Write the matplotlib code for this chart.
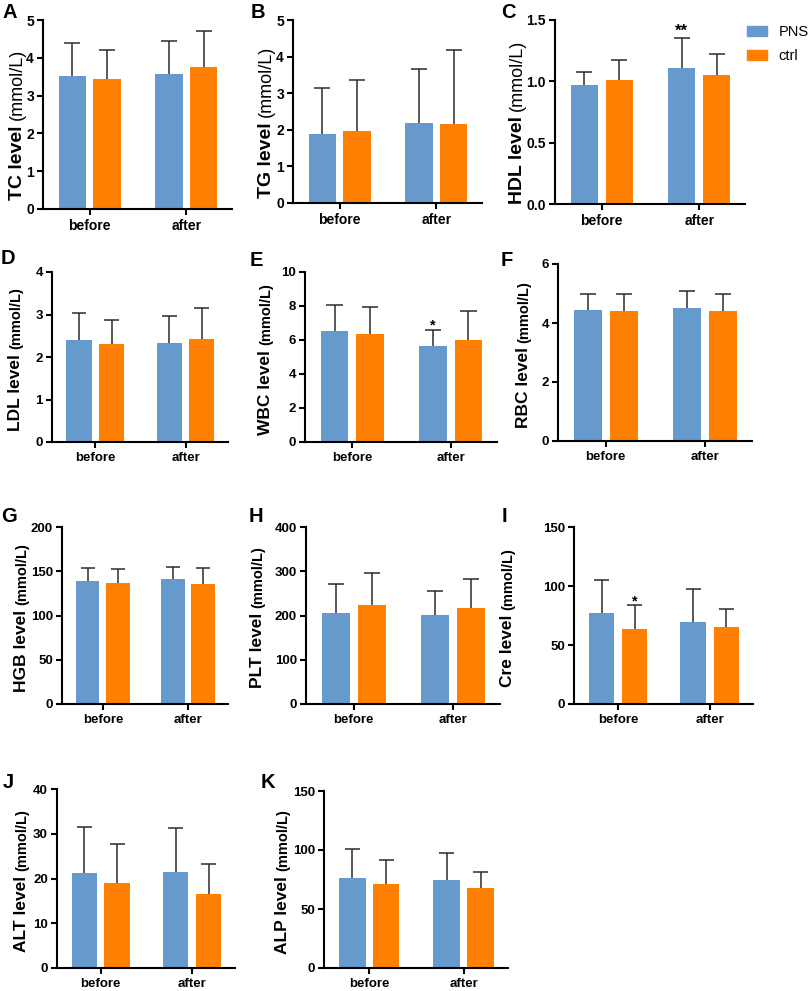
import numpy as np
import matplotlib
matplotlib.use('Agg')
import matplotlib.pyplot as plt
from matplotlib.patches import Patch

plt.rcParams['font.family'] = ['Liberation Sans', 'DejaVu Sans']

# ---------------- data ----------------
GROUPS = ['before', 'after']
SERIES = ['PNS', 'ctrl']
LETTERS = list('ABCDEFGHIJK')
MEASURES = ['TC', 'TG', 'HDL', 'LDL', 'WBC', 'RBC', 'HGB', 'PLT', 'Cre', 'ALT', 'ALP']
UNIT = '(mmol/L)'
Y_MAX = [5, 5, 1.5, 4, 10, 6, 200, 400, 150, 40, 150]
Y_STEP = [1, 1, 0.5, 1, 2, 2, 50, 100, 50, 10, 50]

PNS_BEFORE = [3.52, 1.89, 0.97, 2.39, 6.55, 4.43, 138.6, 205.6, 77.0, 21.2, 76.0]
PNS_AFTER = [3.57, 2.18, 1.11, 2.33, 5.65, 4.51, 141.6, 200.4, 69.4, 21.5, 74.6]
CTRL_BEFORE = [3.45, 1.96, 1.01, 2.30, 6.35, 4.40, 136.3, 223.7, 63.8, 19.0, 70.9]
CTRL_AFTER = [3.75, 2.15, 1.05, 2.43, 6.02, 4.41, 135.2, 217.0, 64.9, 16.6, 67.8]
PNS_BEFORE_SD = [0.86, 1.26, 0.11, 0.65, 1.50, 0.57, 15.1, 65.4, 28.0, 10.35, 24.8]
PNS_AFTER_SD = [0.87, 1.47, 0.24, 0.63, 0.95, 0.56, 12.8, 54.2, 28.2, 9.7, 22.6]
CTRL_BEFORE_SD = [0.76, 1.39, 0.16, 0.56, 1.59, 0.60, 16.2, 71.3, 19.7, 8.66, 20.9]
CTRL_AFTER_SD = [0.96, 2.02, 0.17, 0.73, 1.67, 0.59, 18.1, 65.5, 15.3, 6.7, 13.8]

SIGNIF = [('HDL', 'PNS', 'after', '**'),
          ('WBC', 'PNS', 'after', '*'),
          ('Cre', 'ctrl', 'before', '*')]

# ---------------- layout (pixels) ----------------
W, H = 809, 991
AX_LEFT = [43, 293, 555, 52, 305, 558, 62, 306, 574, 57, 324]
AX_RIGHT = [232, 482, 745, 228, 497, 752, 228, 500, 753, 235, 508]
AX_TOP = [20, 20, 20, 272, 272, 264, 527, 527, 527, 789, 791]
AX_ZERO = [209, 203, 204, 442, 442, 441, 704, 704, 704, 968, 968]
YLAB_X = [15, 264, 515, 14, 264, 522, 20, 256, 506, 20, 281]
LETTER_X = [10, 258, 508, 8, 256, 507, 9, 256, 504, 8, 268]
LETTER_Y = [12, 12, 12, 259, 260, 260, 517, 517, 517, 782, 783]

BLUE = '#6699CC'
ORANGE = '#FF8000'
ERR = '#2b2b2b'
OFF = 0.18
BW = 0.28
CAP = 0.082

fig = plt.figure(figsize=(W / 100, H / 100), dpi=100)
renderer = fig.canvas.get_renderer()


def draw_ylabel(cx, cy, main, unit, fs_main, fs_unit, unit_weight):
    xb = cx + 0.36 * fs_main * 100 / 72
    t1 = fig.text(xb / W, 0, main, rotation=90, rotation_mode='anchor',
                  ha='left', va='baseline', fontsize=fs_main, fontweight='bold')
    t2 = fig.text(xb / W, 0, unit, rotation=90, rotation_mode='anchor',
                  ha='left', va='baseline', fontsize=fs_unit, fontweight=unit_weight)
    h1 = t1.get_window_extent(renderer).height
    h2 = t2.get_window_extent(renderer).height
    gap = 0.28 * fs_main * 100 / 72
    total = h1 + gap + h2
    y0 = (H - cy) - total / 2
    t1.set_position((xb / W, y0 / H))
    t2.set_position((xb / W, (y0 + h1 + gap) / H))


x = np.arange(len(GROUPS))
for i, m in enumerate(MEASURES):
    L, R, T, Z = AX_LEFT[i], AX_RIGHT[i], AX_TOP[i], AX_ZERO[i]
    row1 = i < 3
    ax = fig.add_axes([L / W, 1 - Z / H, (R - L) / W, (Z - T) / H])
    pns = np.array([PNS_BEFORE[i], PNS_AFTER[i]])
    ctrl = np.array([CTRL_BEFORE[i], CTRL_AFTER[i]])
    pns_sd = np.array([PNS_BEFORE_SD[i], PNS_AFTER_SD[i]])
    ctrl_sd = np.array([CTRL_BEFORE_SD[i], CTRL_AFTER_SD[i]])

    for xs, vals, sds, col in [(x - OFF, pns, pns_sd, BLUE), (x + OFF, ctrl, ctrl_sd, ORANGE)]:
        ax.vlines(xs, vals, vals + sds, colors=ERR, linewidth=1.1, zorder=1)
        ax.hlines(vals + sds, xs - CAP, xs + CAP, colors=ERR, linewidth=1.1, zorder=1)
        ax.bar(xs, vals, BW, color=col, zorder=2)

    for (mm, ser, grp, txt) in SIGNIF:
        if mm == m:
            gi = GROUPS.index(grp)
            if ser == 'PNS':
                xx, top = gi - OFF, pns[gi] + pns_sd[gi]
            else:
                xx, top = gi + OFF, ctrl[gi] + ctrl_sd[gi]
            ax.annotate(txt, (xx, top), xytext=(0, 0 if row1 else -2),
                        textcoords='offset points', ha='center', va='bottom',
                        fontsize=12 if row1 else 10.5, fontweight='bold')

    ax.set_xlim(-0.48, 1.47)
    ax.set_ylim(0, Y_MAX[i])
    yt = np.arange(0, Y_MAX[i] + Y_STEP[i] / 2, Y_STEP[i])
    ax.set_yticks(yt)
    if Y_STEP[i] < 1:
        ax.set_yticklabels([f'{v:.1f}' for v in yt])
    else:
        ax.set_yticklabels([f'{v:g}' for v in yt])
    ax.set_xticks(x)
    ax.set_xticklabels(GROUPS)
    for s in ['top', 'right']:
        ax.spines[s].set_visible(False)
    for s in ['left', 'bottom']:
        ax.spines[s].set_linewidth(1.5)
        ax.spines[s].set_color('black')
        ax.spines[s].set_zorder(3)
    fs = 10 if row1 else 9.5
    ax.tick_params(axis='both', width=1.5, length=4.5, labelsize=fs, pad=2, colors='black')
    ax.tick_params(axis='x', pad=3)
    for lbl in ax.get_xticklabels() + ax.get_yticklabels():
        lbl.set_fontweight('bold')

    cy = (T + Z) / 2 + (10 if row1 else 2)
    if row1:
        draw_ylabel(YLAB_X[i], cy, f'{m} level', UNIT, 14, 13, 'normal')
    else:
        draw_ylabel(YLAB_X[i], cy, f'{m} level', UNIT, 12.5, 10.5, 'bold')

    fig.text(LETTER_X[i] / W, 1 - LETTER_Y[i] / H, LETTERS[i], ha='center', va='center',
             fontsize=14.5, fontweight='bold')

handles = [Patch(color=BLUE), Patch(color=ORANGE)]
fig.legend(handles, SERIES, loc='upper left', bbox_to_anchor=(747 / W, 1 - 25 / H),
           frameon=False, fontsize=10.5, handlelength=1.4, handleheight=0.65,
           labelspacing=0.7, handletextpad=0.75, borderpad=0, borderaxespad=0)

fig.savefig('out.png', dpi=100)
